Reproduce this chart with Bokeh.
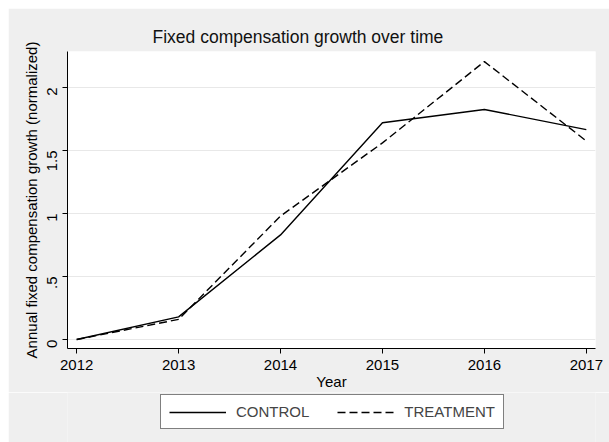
from bokeh.plotting import figure
from bokeh.models import FixedTicker, Legend, LegendItem, Range1d
from bokeh.layouts import column
from bokeh.embed import file_html
from bokeh.resources import INLINE
import math

years = [2012, 2013, 2014, 2015, 2016, 2017]
control = [0.0, 0.18, 0.83, 1.72, 1.825, 1.665]
treatment = [0.0, 0.16, 0.98, 1.56, 2.205, 1.575]
y_ticks = [0, 0.5, 1, 1.5, 2]
y_tick_labels = ["0", ".5", "1", "1.5", "2"]
series_names = ["CONTROL", "TREATMENT"]

BG = "#efefef"
FONT = "Liberation Sans"

p = figure(width=601, height=384, output_backend="svg", toolbar_location=None,
           x_range=Range1d(2011.91, 2017.09), y_range=Range1d(-0.071, 2.285),
           min_border_left=59, min_border_right=14, min_border_top=43, min_border_bottom=43)
p.background_fill_color = "white"
p.border_fill_color = BG
p.outline_line_color = None

p.title.text = "Fixed compensation growth over time"
p.title.text_font = FONT
p.title.text_font_size = "17.5px"
p.title.text_font_style = "normal"
p.title.align = "left"
p.title.offset = 85
p.title.text_color = "#111111"

p.line(years, control, line_color="black", line_width=1.4)
p.line(years, treatment, line_color="black", line_width=1.4, line_dash="8 4")

p.xaxis.ticker = FixedTicker(ticks=years)
p.yaxis.ticker = FixedTicker(ticks=y_ticks)
p.yaxis.major_label_overrides = {t: l for t, l in zip(y_ticks, y_tick_labels)}
p.yaxis.major_label_orientation = math.pi / 2
p.xaxis.axis_label = "Year"
p.yaxis.axis_label = "Annual fixed compensation growth (normalized)"
for ax in (p.xaxis, p.yaxis):
    ax.axis_line_color = "black"
    ax.major_tick_line_color = "black"
    ax.major_tick_out = 5
    ax.major_tick_in = 0
    ax.minor_tick_line_color = None
    ax.major_label_text_font = FONT
    ax.major_label_text_font_size = "15px"
    ax.major_label_text_color = "black"
    ax.axis_label_text_font = FONT
    ax.axis_label_text_font_size = "15px"
    ax.axis_label_text_font_style = "normal"
    ax.axis_label_text_color = "black"
    ax.axis_label_standoff = 0
p.xaxis.major_label_standoff = 6
p.yaxis.major_label_standoff = 10

p.xgrid.grid_line_color = None
p.ygrid.ticker = FixedTicker(ticks=y_ticks)
p.ygrid.grid_line_color = "#e8e8e8"
p.ygrid.grid_line_width = 1

# legend strip below the chart
lg = figure(width=601, height=50, output_backend="svg", toolbar_location=None,
            x_range=Range1d(0, 1), y_range=Range1d(0, 1),
            min_border_left=0, min_border_right=0, min_border_top=0, min_border_bottom=0)
lg.axis.visible = False
lg.grid.visible = False
lg.background_fill_color = BG
lg.border_fill_color = BG
lg.outline_line_color = None
l1 = lg.line(years, control, line_color="black", line_width=1.4)
l2 = lg.line(years, treatment, line_color="black", line_width=1.4, line_dash="8 4")

legend = Legend(items=[LegendItem(label=series_names[0], renderers=[l1]),
                       LegendItem(label=series_names[1], renderers=[l2])],
                orientation="horizontal", location=(93, 13))
legend.label_text_font = FONT
legend.label_text_font_size = "15px"
legend.glyph_width = 57
legend.glyph_height = 14
legend.label_height = 14
legend.label_standoff = 10
legend.spacing = 28
legend.padding = 8
legend.margin = 0
legend.border_line_color = "black"
legend.border_line_width = 1
legend.background_fill_color = "white"
legend.background_fill_alpha = 1
lg.add_layout(legend, "center")

layout = column(p, lg, spacing=0)
layout.margin = (8, 0, 0, 8)

open("out.html", "w").write(file_html(layout, INLINE))
